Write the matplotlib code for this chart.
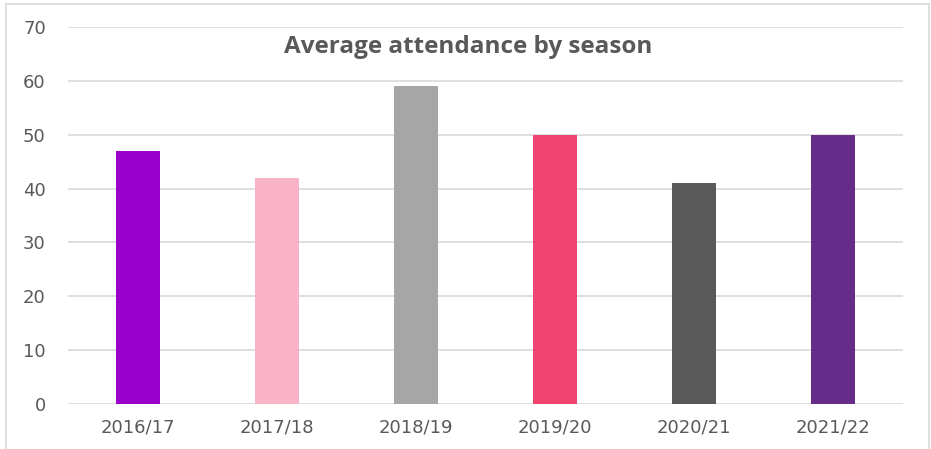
import matplotlib
matplotlib.use("Agg")
import matplotlib.pyplot as plt
from matplotlib.patches import Rectangle

seasons = ["2016/17", "2017/18", "2018/19", "2019/20", "2020/21", "2021/22"]
attendance = [47, 42, 59, 50, 41, 50]
colors = ["#9900CC", "#F8B3C6", "#A6A6A6", "#EF4570", "#595959", "#652D89"]
yticks = [0, 10, 20, 30, 40, 50, 60, 70]

W, H = 931, 449
fig = plt.figure(figsize=(W / 100, H / 100), dpi=100)
fig.patch.set_facecolor("white")

# outer chart frame
fig.add_artist(Rectangle((6 / W, -0.05), (929 - 6) / W, 1.05 - 4 / H,
                         transform=fig.transFigure, fill=False,
                         edgecolor="#D9D9D9", linewidth=1.2))

left, right, top, bottom = 68, 903, 27, 404
ax = fig.add_axes([left / W, 1 - bottom / H, (right - left) / W, (bottom - top) / H])
x = list(range(len(seasons)))
ax.bar(x, attendance, width=0.316, color=colors, zorder=3)
ax.set_xlim(-0.5, len(seasons) - 0.5)
ax.set_ylim(0, 70)
ax.set_yticks(yticks)
ax.set_xticks(x)
ax.set_xticklabels(seasons)
ax.grid(axis="y", color="#D9D9D9", linewidth=1.2, zorder=0)
for s in ["top", "right", "left", "bottom"]:
    ax.spines[s].set_visible(False)
ax.tick_params(axis="both", length=0, labelsize=13, labelcolor="#595959")
ax.tick_params(axis="y", pad=16)
ax.tick_params(axis="x", pad=10.5)
for lab in ax.get_xticklabels() + ax.get_yticklabels():
    lab.set_fontfamily("DejaVu Sans")

fig.text(468 / W, 1 - 47 / H, "Average attendance by season", ha="center", va="center",
         fontsize=17.5, fontweight="bold", color="#595959", family="Open Sans")

fig.savefig("out.png", dpi=100, facecolor="white")
